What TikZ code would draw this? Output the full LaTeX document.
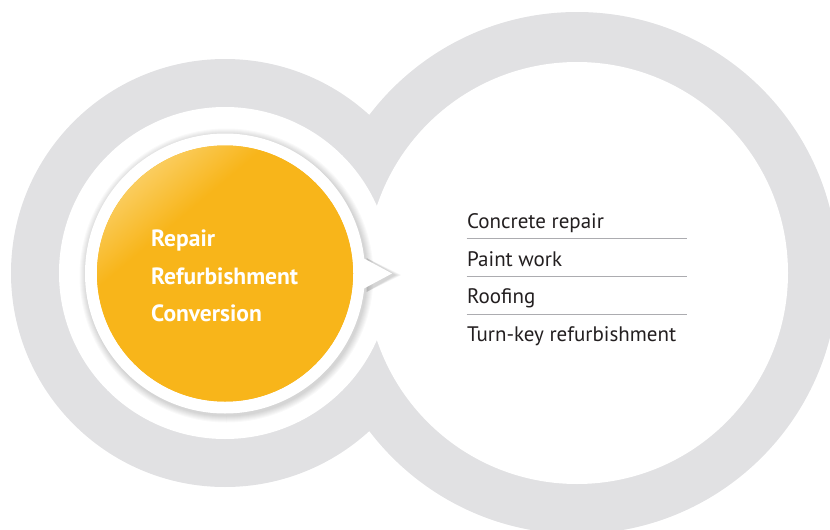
\documentclass[tikz,border=0pt]{standalone}
\usepackage{fontspec}
\setmainfont{PT Sans}
\usetikzlibrary{positioning}
\definecolor{ringgray}{RGB}{225,225,227}
\definecolor{sunyellow}{RGB}{248,181,26}
\definecolor{sunlight}{RGB}{252,226,156}
\definecolor{rulegray}{RGB}{172,172,176}
\definecolor{inkblack}{RGB}{35,31,32}
\pgfdeclareverticalshading{sunglow}{100bp}{color(0bp)=(sunyellow); color(64bp)=(sunyellow); color(85bp)=(sunlight); color(100bp)=(sunlight)}

\begin{document}
\begin{tikzpicture}[x=1pt,y=-1pt,
    listitem/.style={anchor=base west,inner sep=0pt,text=inkblack,font=\fontsize{21}{21}\selectfont},
    sunitem/.style={anchor=base west,inner sep=0pt,text=white,font=\bfseries\fontsize{23.5}{23.5}\selectfont},
    sepline/.style={draw=rulegray,line width=1pt}]
  \useasboundingbox (0,0) rectangle (830,530);
  % two rings
  \fill[ringgray] (225,273) circle[radius=214pt] (577,273) circle[radius=261pt];
  \fill[white] (225,273) circle[radius=166pt] (577,273) circle[radius=211pt];
  % soft shadow of the bubble
  \foreach \k in {1,...,7}{
    \fill[black,opacity=0.025] (226.5,275.5) circle[radius=140pt+\k pt];
    \fill[black,opacity=0.025] (366.5,258) -- (394.5+\k,275) -- (366.5,292) -- cycle;
  }
  % bubble and sun
  \node[circle,fill=white,inner sep=0pt,minimum size=280pt] (halo) at (225,273.5) {};
  \fill[white] (364,258.5) -- (392,273.5) -- (364,288.5) -- cycle;
  \node[circle,fill=sunyellow,inner sep=0pt,minimum size=256pt] (sun) at (halo.center) {};
  \shade[shading=sunglow,shading angle=40] (sun.center) circle[radius=128pt];
  \node[sunitem] (repair) at (151,246.5) {Repair};
  \node[sunitem] (refurb) at (151,284.5) {Refurbishment};
  \node[sunitem] (conv) at (151,321.5) {Conversion};
  % list
  \node[listitem] (concrete) at (467,228) {Concrete repair};
  \node[listitem] (paint) at (467,266) {Paint work};
  \node[listitem] (roof) at (467,303) {Roofing};
  \node[listitem] (turnkey) at (467,341) {Turn-key refurbishment};
  \foreach \y in {238.5,276.3,314}
    \draw[sepline] (466.5,\y) -- (687,\y);
\end{tikzpicture}
\end{document}
